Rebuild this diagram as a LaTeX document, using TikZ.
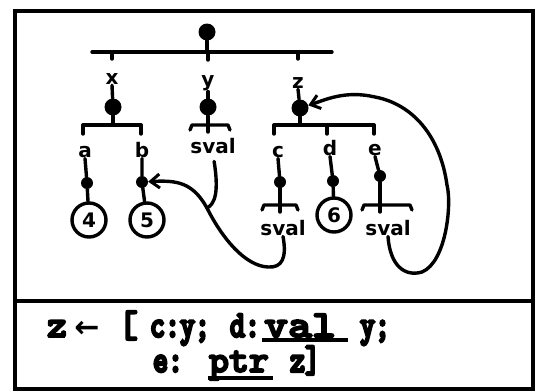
\documentclass[tikz,border=0pt]{standalone}
\usepackage{fontspec}
\newfontfamily\arrsym{DejaVu Sans}
\newfontfamily\lblface{DejaVu Sans}
\newfontfamily\codeface{lmmonolt10-bold}[Extension=.otf, FakeBold=5]
\newfontfamily\codenarrow{lmmonolt10-bold}[Extension=.otf, FakeBold=6, FakeStretch=0.75]
\newfontfamily\codewide{lmmonolt10-bold}[Extension=.otf, FakeBold=5, FakeStretch=1.2]
\usetikzlibrary{arrows.meta}
\newcommand\codefnt{\codeface\fontsize{38}{38}\selectfont}
\newcommand\narfnt{\codenarrow\fontsize{38}{38}\selectfont}
\newcommand\widefnt{\codewide\fontsize{38}{38}\selectfont}
\newcommand\lblfnt{\lblface\bfseries\fontsize{20}{20}\selectfont}
\begin{document}
\begin{tikzpicture}[x=1pt,y=-1pt,
  ln/.style={line width=3.4pt, line cap=round, line join=round},
  bigdot/.style={circle, fill=black, inner sep=0pt, minimum size=17pt},
  smalldot/.style={circle, fill=black, inner sep=0pt, minimum size=12pt},
  lbl/.style={font=\lblfnt, inner sep=1pt, anchor=base},
  valc/.style={circle, draw, line width=3.4pt, minimum size=34pt, inner sep=0pt, font=\lblfnt},
  code/.style={font=\codefnt, inner sep=0pt, anchor=base},
  ncode/.style={font=\narfnt, inner sep=0pt, anchor=base},
  wcode/.style={font=\widefnt, inner sep=0pt, anchor=base},
  tip/.style={-{Straight Barb[length=9pt,width=14pt,line width=3pt]}}
]
\useasboundingbox (0,0) rectangle (537,391);
% frame
\draw[line width=4pt] (15,11) rectangle (533,389);
\draw[line width=4pt] (15,301) -- (533,301);

% root
\node[bigdot] (root) at (207,32) {};
\coordinate (tbL) at (92,52);
\coordinate (tbR) at (332,52);
\coordinate (tbM) at (207,52);
\draw[ln] (tbL) -- (tbR);
\draw[ln] (root) -- (tbM);
\coordinate (tx) at (112,52);
\coordinate (ty) at (208,52);
\coordinate (tz) at (298,52);
\draw[ln] (tx) -- ++(0,7);
\draw[ln] (ty) -- ++(0,8);
\draw[ln] (tz) -- ++(0,7);

% second level labels and dots
\node[lbl] (lx) at (112,84) {x};
\node[lbl] (ly) at (208,86) {y};
\node[lbl] (lz) at (298,88) {z};
\node[bigdot] (dx) at (113,107) {};
\node[bigdot] (dy) at (208,107) {};
\node[bigdot] (dz) at (300,108) {};
\draw[ln] (lx.south) -- (dx);
\draw[ln] (ly.south) -- (dy);
\draw[ln] (lz.south) -- (dz);

% x record
\coordinate (sxL) at (83,125);
\coordinate (sxR) at (141,125);
\coordinate (sxM) at (113,125);
\draw[ln] (sxL) -- (sxR);
\draw[ln] (dx) -- (sxM);
\draw[ln] (sxL) -- ++(0,9);
\draw[ln] (sxR) -- ++(0,9);
\node[lbl] (la) at (85,157) {a};
\node[lbl] (lb) at (142,157) {b};
\node[smalldot] (da) at (87,183) {};
\node[smalldot] (db) at (142,182) {};
\node[valc] (c4) at (89,220) {4};
\node[valc] (c5) at (147,220) {5};
\draw[ln] (la.south) -- (da) -- (c4);
\draw[ln] (lb.south) -- (db) -- (c5);

% y scalar value
\coordinate (vy) at (208,125);
\draw[ln] (vy) ++(-18,5) -- ++(2,-5) -- ++(36,0) -- ++(2,5);
\draw[ln] (dy) -- (vy) -- ++(0,7);
\node[lbl] (svy) at (213,153) {sval};

% z record
\coordinate (szL) at (274,125);
\coordinate (szR) at (374,125);
\coordinate (szM) at (300,125);
\coordinate (szD) at (327,125);
\draw[ln] (szL) -- (szR);
\draw[ln] (dz) -- (szM);
\draw[ln] (szL) -- ++(0,9);
\draw[ln] (szD) -- ++(0,9);
\draw[ln] (szR) -- ++(0,9);
\node[lbl] (lc) at (278,157) {c};
\node[lbl] (ld) at (330,155) {d};
\node[lbl] (le) at (375,155) {e};
\node[smalldot] (dc) at (280,182) {};
\node[smalldot] (dd) at (333,181) {};
\node[smalldot] (de) at (380,176) {};
\draw[ln] (lc.south) -- (dc);
\draw[ln] (ld.south) -- (dd);
\draw[ln] (le.south) -- (de);
\node[valc] (c6) at (334,215) {6};
\draw[ln] (dd) -- (c6);
\coordinate (vc) at (280,205);
\draw[ln] (vc) ++(-18,5) -- ++(2,-5) -- ++(32,0) -- ++(2,5);
\draw[ln] (dc) -- (vc) -- ++(0,7);
\node[lbl] (svc) at (283,235) {sval};
\coordinate (ve) at (380,205);
\draw[ln] (ve) ++(-18,5) -- ++(2,-5) -- ++(46,0) -- ++(2,5);
\draw[ln] (de) -- (ve) -- ++(0,7);
\node[lbl] (sve) at (388,235) {sval};

% pointer curves
\coordinate (k1) at (268,267);
\coordinate (k2) at (207,208);
\draw[ln,tip] (svc.south) .. controls (287,258) and (282,268) .. (k1)
  .. controls (245,266) and (222,238) .. (k2)
  .. controls (193,183) and (178,180) .. (db);
\draw[ln,shorten <=7pt] (svy.south) .. controls (219,192) and (215,204) .. (k2);
\coordinate (k3) at (422,272);
\coordinate (k4) at (447,185);
\coordinate (k5) at (375,97);
\draw[ln,tip] (sve.south) .. controls (390,266) and (405,277) .. (k3)
  .. controls (446,262) and (452,205) .. (k4)
  .. controls (440,135) and (412,104) .. (k5)
  .. controls (345,90) and (325,100) .. (dz);

% code
\node[code] (t1) at (57,337) {z};
\node[font=\arrsym\bfseries\fontsize{30}{30}\selectfont, inner sep=0pt] (t2) at (87,329) {←};
\node[code] (t3) at (128,337) {[};
\node[ncode] (t4) at (180,337) {c:y;};
\node[ncode] (t5) at (245,337) {d:};
\node[wcode] (t6) at (300,337) {val};
\node[ncode] (t7) at (375,337) {y;};
\draw[ln,line cap=butt] (t6.base west) ++(-2,3) -- ++(86,0);
\node[ncode] (t8) at (168,372) {e:};
\node[code] (t9) at (239,372) {ptr};
\node[ncode] (t10) at (305,372) {z]};
\draw[ln,line cap=butt] (t9.base west) ++(-1,6) -- ++(65,0);
\end{tikzpicture}
\end{document}
